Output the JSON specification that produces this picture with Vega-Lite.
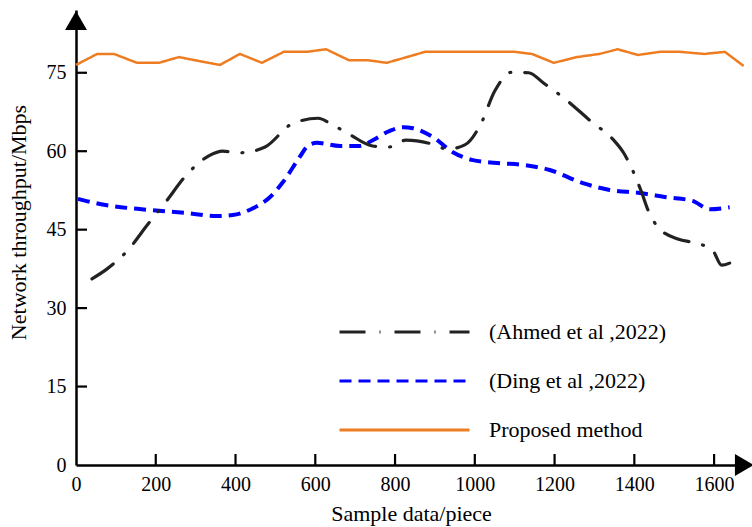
{
  "$schema": "https://vega.github.io/schema/vega-lite/v6.json",
  "width": 670,
  "height": 455,
  "autosize": {"type": "none"},
  "padding": {"left": 76, "top": 10, "right": 6, "bottom": 62},
  "background": "white",
  "config": {"font": "Liberation Serif", "view": {"stroke": null}},
  "datasets": {
    "series": [
      {"series": "Proposed method", "x": 0, "y": 76.5},
      {"series": "Proposed method", "x": 53, "y": 78.6},
      {"series": "Proposed method", "x": 95, "y": 78.6},
      {"series": "Proposed method", "x": 153, "y": 76.9},
      {"series": "Proposed method", "x": 208, "y": 76.9},
      {"series": "Proposed method", "x": 258, "y": 78.0},
      {"series": "Proposed method", "x": 318, "y": 77.1},
      {"series": "Proposed method", "x": 361, "y": 76.5},
      {"series": "Proposed method", "x": 411, "y": 78.6},
      {"series": "Proposed method", "x": 466, "y": 76.9},
      {"series": "Proposed method", "x": 521, "y": 79.0},
      {"series": "Proposed method", "x": 579, "y": 79.0},
      {"series": "Proposed method", "x": 627, "y": 79.5},
      {"series": "Proposed method", "x": 684, "y": 77.4},
      {"series": "Proposed method", "x": 732, "y": 77.4},
      {"series": "Proposed method", "x": 779, "y": 76.9},
      {"series": "Proposed method", "x": 830, "y": 78.0},
      {"series": "Proposed method", "x": 875, "y": 79.0},
      {"series": "Proposed method", "x": 1063, "y": 79.0},
      {"series": "Proposed method", "x": 1100, "y": 79.0},
      {"series": "Proposed method", "x": 1143, "y": 78.6},
      {"series": "Proposed method", "x": 1198, "y": 76.9},
      {"series": "Proposed method", "x": 1256, "y": 78.0},
      {"series": "Proposed method", "x": 1313, "y": 78.6},
      {"series": "Proposed method", "x": 1358, "y": 79.5},
      {"series": "Proposed method", "x": 1409, "y": 78.4},
      {"series": "Proposed method", "x": 1464, "y": 79.0},
      {"series": "Proposed method", "x": 1514, "y": 79.0},
      {"series": "Proposed method", "x": 1576, "y": 78.6},
      {"series": "Proposed method", "x": 1627, "y": 79.0},
      {"series": "Proposed method", "x": 1674, "y": 76.3},

      {"series": "(Ahmed et al ,2022)", "x": 40, "y": 35.6},
      {"series": "(Ahmed et al ,2022)", "x": 78, "y": 37.5},
      {"series": "(Ahmed et al ,2022)", "x": 128, "y": 40.9},
      {"series": "(Ahmed et al ,2022)", "x": 183, "y": 46.3},
      {"series": "(Ahmed et al ,2022)", "x": 223, "y": 50.1},
      {"series": "(Ahmed et al ,2022)", "x": 281, "y": 55.8},
      {"series": "(Ahmed et al ,2022)", "x": 333, "y": 59.1},
      {"series": "(Ahmed et al ,2022)", "x": 368, "y": 60.0},
      {"series": "(Ahmed et al ,2022)", "x": 411, "y": 59.7},
      {"series": "(Ahmed et al ,2022)", "x": 474, "y": 60.8},
      {"series": "(Ahmed et al ,2022)", "x": 541, "y": 65.2},
      {"series": "(Ahmed et al ,2022)", "x": 607, "y": 66.3},
      {"series": "(Ahmed et al ,2022)", "x": 644, "y": 65.0},
      {"series": "(Ahmed et al ,2022)", "x": 684, "y": 63.3},
      {"series": "(Ahmed et al ,2022)", "x": 744, "y": 61.0},
      {"series": "(Ahmed et al ,2022)", "x": 784, "y": 60.8},
      {"series": "(Ahmed et al ,2022)", "x": 827, "y": 62.1},
      {"series": "(Ahmed et al ,2022)", "x": 892, "y": 61.4},
      {"series": "(Ahmed et al ,2022)", "x": 932, "y": 60.4},
      {"series": "(Ahmed et al ,2022)", "x": 975, "y": 61.2},
      {"series": "(Ahmed et al ,2022)", "x": 1015, "y": 65.2},
      {"series": "(Ahmed et al ,2022)", "x": 1050, "y": 71.5},
      {"series": "(Ahmed et al ,2022)", "x": 1093, "y": 75.1},
      {"series": "(Ahmed et al ,2022)", "x": 1135, "y": 75.0},
      {"series": "(Ahmed et al ,2022)", "x": 1173, "y": 73.0},
      {"series": "(Ahmed et al ,2022)", "x": 1226, "y": 70.0},
      {"series": "(Ahmed et al ,2022)", "x": 1293, "y": 65.6},
      {"series": "(Ahmed et al ,2022)", "x": 1346, "y": 62.3},
      {"series": "(Ahmed et al ,2022)", "x": 1373, "y": 59.7},
      {"series": "(Ahmed et al ,2022)", "x": 1393, "y": 56.8},
      {"series": "(Ahmed et al ,2022)", "x": 1419, "y": 52.0},
      {"series": "(Ahmed et al ,2022)", "x": 1434, "y": 48.8},
      {"series": "(Ahmed et al ,2022)", "x": 1459, "y": 45.5},
      {"series": "(Ahmed et al ,2022)", "x": 1509, "y": 43.2},
      {"series": "(Ahmed et al ,2022)", "x": 1556, "y": 42.4},
      {"series": "(Ahmed et al ,2022)", "x": 1596, "y": 41.1},
      {"series": "(Ahmed et al ,2022)", "x": 1619, "y": 38.2},
      {"series": "(Ahmed et al ,2022)", "x": 1639, "y": 38.6},

      {"series": "(Ding et al ,2022)", "x": 5, "y": 50.9},
      {"series": "(Ding et al ,2022)", "x": 60, "y": 49.9},
      {"series": "(Ding et al ,2022)", "x": 178, "y": 48.8},
      {"series": "(Ding et al ,2022)", "x": 273, "y": 48.2},
      {"series": "(Ding et al ,2022)", "x": 353, "y": 47.6},
      {"series": "(Ding et al ,2022)", "x": 393, "y": 47.8},
      {"series": "(Ding et al ,2022)", "x": 444, "y": 49.1},
      {"series": "(Ding et al ,2022)", "x": 486, "y": 51.2},
      {"series": "(Ding et al ,2022)", "x": 519, "y": 54.1},
      {"series": "(Ding et al ,2022)", "x": 561, "y": 58.9},
      {"series": "(Ding et al ,2022)", "x": 581, "y": 61.0},
      {"series": "(Ding et al ,2022)", "x": 604, "y": 61.6},
      {"series": "(Ding et al ,2022)", "x": 662, "y": 61.0},
      {"series": "(Ding et al ,2022)", "x": 712, "y": 61.0},
      {"series": "(Ding et al ,2022)", "x": 744, "y": 62.1},
      {"series": "(Ding et al ,2022)", "x": 787, "y": 63.9},
      {"series": "(Ding et al ,2022)", "x": 820, "y": 64.6},
      {"series": "(Ding et al ,2022)", "x": 845, "y": 64.4},
      {"series": "(Ding et al ,2022)", "x": 895, "y": 62.7},
      {"series": "(Ding et al ,2022)", "x": 945, "y": 59.8},
      {"series": "(Ding et al ,2022)", "x": 995, "y": 58.3},
      {"series": "(Ding et al ,2022)", "x": 1063, "y": 57.7},
      {"series": "(Ding et al ,2022)", "x": 1120, "y": 57.4},
      {"series": "(Ding et al ,2022)", "x": 1188, "y": 56.4},
      {"series": "(Ding et al ,2022)", "x": 1271, "y": 53.9},
      {"series": "(Ding et al ,2022)", "x": 1338, "y": 52.6},
      {"series": "(Ding et al ,2022)", "x": 1414, "y": 52.0},
      {"series": "(Ding et al ,2022)", "x": 1481, "y": 51.2},
      {"series": "(Ding et al ,2022)", "x": 1546, "y": 50.5},
      {"series": "(Ding et al ,2022)", "x": 1589, "y": 48.9},
      {"series": "(Ding et al ,2022)", "x": 1639, "y": 49.3}
    ],
    "arrows": [
      {"x": 1676, "y": 0, "shape": "triangle-right"},
      {"x": 0, "y": 85.0, "shape": "triangle-up"}
    ],
    "xticks": [{"x": 200, "y": 0}, {"x": 400, "y": 0}, {"x": 600, "y": 0}, {"x": 800, "y": 0}, {"x": 1000, "y": 0}, {"x": 1200, "y": 0}, {"x": 1400, "y": 0}, {"x": 1600, "y": 0}],
    "yticks": [{"x": 0, "y": 15}, {"x": 0, "y": 30}, {"x": 0, "y": 45}, {"x": 0, "y": 60}, {"x": 0, "y": 75}]
  },
  "encoding": {
    "x": {
      "field": "x", "type": "quantitative",
      "scale": {"domain": [0, 1680], "nice": false, "zero": false},
      "axis": {
        "values": [0, 200, 400, 600, 800, 1000, 1200, 1400, 1600],
        "format": "d",
        "title": "Sample data/piece",
        "titleFont": "Liberation Serif", "titleFontSize": 22, "titleFontWeight": "normal", "titleColor": "black",
        "titlePadding": 9,
        "labelFont": "Liberation Serif", "labelFontSize": 20, "labelColor": "black",
        "labelPadding": 9, "labelFlush": false,
        "ticks": false,
        "domainColor": "black", "domainWidth": 2.5,
        "grid": false
      }
    },
    "y": {
      "field": "y", "type": "quantitative",
      "scale": {"domain": [0, 87], "nice": false},
      "axis": {
        "values": [0, 15, 30, 45, 60, 75],
        "title": "Network throughput/Mbps",
        "titleFont": "Liberation Serif", "titleFontSize": 22, "titleFontWeight": "normal", "titleColor": "black",
        "titlePadding": 16, "titleY": 212,
        "labelFont": "Liberation Serif", "labelFontSize": 20, "labelColor": "black",
        "labelPadding": 10, "labelFlush": false,
        "ticks": false,
        "domainColor": "black", "domainWidth": 2.5,
        "grid": false
      }
    }
  },
  "layer": [
    {
      "data": {"name": "series"},
      "transform": [{"filter": "datum.series === '(Ding et al ,2022)'"}],
      "mark": {"type": "line", "interpolate": "monotone", "strokeWidth": 4},
      "encoding": {
        "color": {
          "field": "series", "type": "nominal",
          "scale": {
            "domain": ["(Ahmed et al ,2022)", "(Ding et al ,2022)", "Proposed method"],
            "range": ["#222222", "#0000FF", "#EE7D22"]
          },
          "legend": {
            "orient": "none", "legendX": 262, "legendY": 312,
            "title": null, "symbolType": "stroke", "symbolSize": 16900,
            "symbolStrokeWidth": 3, "labelFont": "Liberation Serif", "labelFontSize": 22,
            "labelColor": "black", "labelOffset": 18, "rowPadding": 27, "clipHeight": 20,
            "labelLimit": 400, "padding": 0
          }
        },
        "strokeDash": {
          "field": "series", "type": "nominal",
          "scale": {
            "domain": ["(Ahmed et al ,2022)", "(Ding et al ,2022)", "Proposed method"],
            "range": [[26, 14, 1, 14], [12, 7], [1, 0]]
          }
        }
      }
    },
    {
      "data": {"name": "series"},
      "transform": [{"filter": "datum.series === '(Ahmed et al ,2022)'"}],
      "mark": {"type": "line", "interpolate": "monotone", "strokeWidth": 3.2, "strokeCap": "round"},
      "encoding": {
        "color": {"field": "series", "type": "nominal"},
        "strokeDash": {"field": "series", "type": "nominal"}
      }
    },
    {
      "data": {"name": "series"},
      "transform": [{"filter": "datum.series === 'Proposed method'"}],
      "mark": {"type": "line", "interpolate": "linear", "strokeWidth": 2.5},
      "encoding": {
        "color": {"field": "series", "type": "nominal"},
        "strokeDash": {"field": "series", "type": "nominal"}
      }
    },
    {
      "data": {"name": "xticks"},
      "mark": {"type": "point", "shape": "M0,0V-2", "filled": false, "stroke": "black", "strokeWidth": 2.2, "opacity": 1},
      "encoding": {"size": {"value": 121}}
    },
    {
      "data": {"name": "yticks"},
      "mark": {"type": "point", "shape": "M0,0H2", "filled": false, "stroke": "black", "strokeWidth": 2.2, "opacity": 1},
      "encoding": {"size": {"value": 121}}
    },
    {
      "data": {"name": "arrows"},
      "mark": {"type": "point", "filled": true, "color": "black", "opacity": 1},
      "encoding": {
        "shape": {"field": "shape", "type": "nominal", "scale": null},
        "size": {"value": 480}
      }
    }
  ]
}
